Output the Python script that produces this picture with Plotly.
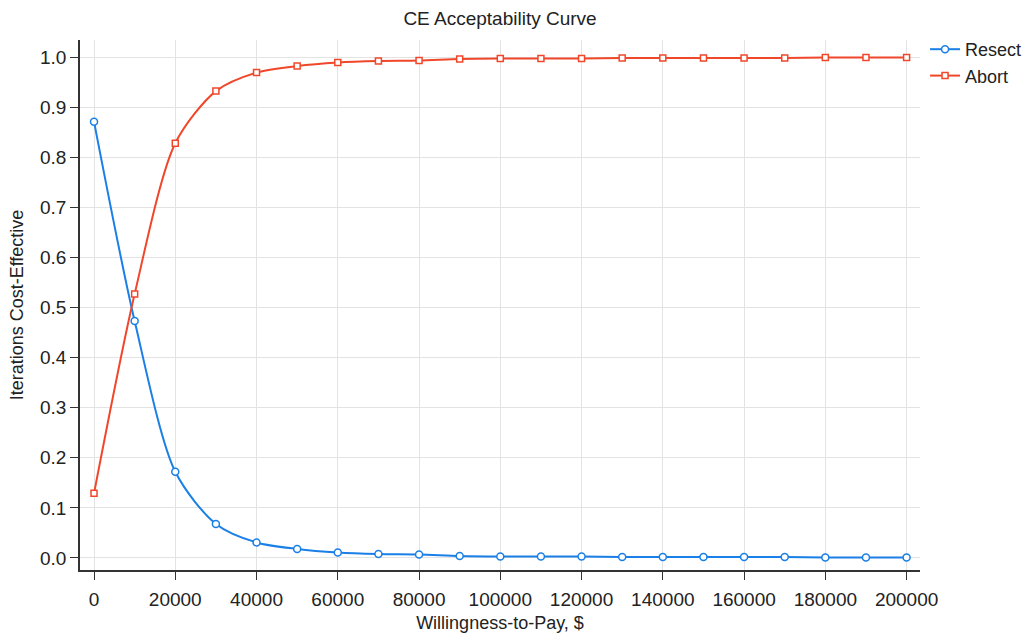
import plotly.graph_objects as go

wtp = [0, 10000, 20000, 30000, 40000, 50000, 60000, 70000, 80000, 90000, 100000,
       110000, 120000, 130000, 140000, 150000, 160000, 170000, 180000, 190000, 200000]
resect = [0.871, 0.473, 0.172, 0.068, 0.031, 0.018, 0.011, 0.008, 0.007, 0.004, 0.003,
          0.003, 0.003, 0.002, 0.002, 0.002, 0.002, 0.002, 0.001, 0.001, 0.001]
abort = [0.129, 0.527, 0.828, 0.932, 0.969, 0.982, 0.989, 0.992, 0.993, 0.996, 0.997,
         0.997, 0.997, 0.998, 0.998, 0.998, 0.998, 0.998, 0.999, 0.999, 0.999]
x_ticks = list(range(0, 200001, 20000))
y_ticks = [i / 10 for i in range(11)]

font_family = "Liberation Sans, Arial, sans-serif"
blue = "#1a7fe6"
red = "#f0472b"

fig = go.Figure()
fig.add_trace(go.Scatter(
    x=wtp, y=resect, name="Resect", mode="lines+markers",
    line=dict(color=blue, width=2, shape="spline", smoothing=0.8),
    marker=dict(symbol="circle", size=7, color="white", line=dict(color=blue, width=1.5)),
))
fig.add_trace(go.Scatter(
    x=wtp, y=abort, name="Abort", mode="lines+markers",
    line=dict(color=red, width=2, shape="spline", smoothing=0.8),
    marker=dict(symbol="square", size=6, color="white", line=dict(color=red, width=1.5)),
))

fig.update_layout(
    width=1027, height=635,
    paper_bgcolor="white", plot_bgcolor="white",
    font=dict(family=font_family, size=18, color="#222"),
    title=dict(text="CE Acceptability Curve", x=0.5, xanchor="center", xref="paper",
               y=1 - 18 / 635, yanchor="middle", font=dict(size=19, color="#222")),
    margin=dict(l=80, r=107, t=40, b=65, autoexpand=False),
    legend=dict(x=1.006, y=1.017, xanchor="left", yanchor="top",
                font=dict(size=18), bgcolor="rgba(0,0,0,0)", tracegroupgap=0,
                itemwidth=30),
    xaxis=dict(
        title=dict(text="Willingness-to-Pay, $", standoff=8, font=dict(size=18)),
        range=[-3450, 203300], tickmode="array",
        tickvals=x_ticks,
        ticktext=[str(v) for v in x_ticks],
        tickfont=dict(size=19),
        showgrid=True, gridcolor="#e3e3e3", gridwidth=1,
        showline=True, linecolor="#333", linewidth=1.5,
        ticks="outside", ticklen=8, tickcolor="#333", zeroline=False,
        automargin=False, ticklabelstandoff=3,
    ),
    yaxis=dict(
        title=dict(text="Iterations Cost-Effective", standoff=12, font=dict(size=18)),
        range=[-0.024, 1.034], tickmode="array",
        tickvals=y_ticks,
        ticktext=[f"{v:.1f}" for v in y_ticks],
        tickfont=dict(size=19),
        showgrid=True, gridcolor="#e3e3e3", gridwidth=1,
        showline=True, linecolor="#333", linewidth=1.5,
        ticks="outside", ticklen=8, tickcolor="#333", zeroline=False,
        automargin=False,
    ),
)

fig.write_html("out.html", config={"displayModeBar": False},
               post_script="document.body.style.margin='0';")
